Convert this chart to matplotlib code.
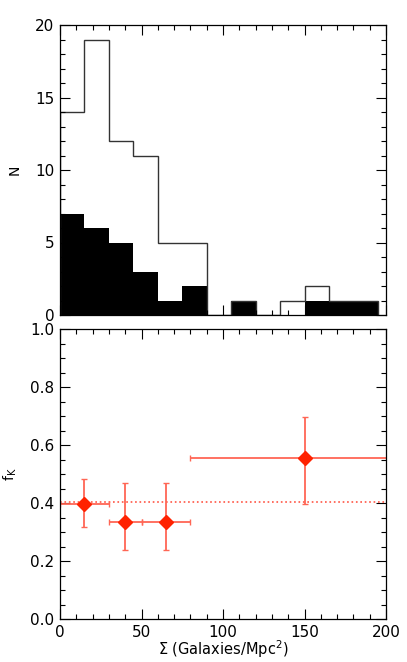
import numpy as np
import matplotlib
matplotlib.use("Agg")
import matplotlib.pyplot as plt
from matplotlib.ticker import MultipleLocator, FormatStrFormatter

plt.rcParams['font.family'] = ['DejaVu Sans']
plt.rcParams['font.size'] = 11
plt.rcParams['mathtext.fontset'] = 'dejavusans'

# Histogram data (bins of width 15)
bin_edges = np.arange(0, 196, 15)
n_all = [14, 19, 12, 11, 5, 5, 0, 1, 0, 1, 2, 1, 1]
n_sub = [7, 6, 5, 3, 1, 2, 0, 1, 0, 0, 1, 1, 1]

# Fraction data
sigma = [15, 40, 65, 150]
sigma_lo = [15, 10, 15, 70]
sigma_hi = [15, 10, 15, 70]
fk = [0.395, 0.335, 0.335, 0.555]
fk_lo = [0.078, 0.097, 0.097, 0.157]
fk_hi = [0.088, 0.133, 0.133, 0.140]
fk_mean = 0.405

fig = plt.figure(figsize=(4.07, 6.62), dpi=100)
ax1 = fig.add_axes([60/407, 1-315/662, 326/407, 290/662])
ax2 = fig.add_axes([60/407, 1-619/662, 326/407, 290/662])

# Top: histograms
ax1.bar(bin_edges[:-1], n_sub, width=15, align='edge', color='black', linewidth=0)
ax1.stairs(n_all, bin_edges, color='#333333', linewidth=1.0)
ax1.set_xlim(0, 200)
ax1.set_ylim(0, 20)
ax1.set_ylabel("N", fontsize=10, labelpad=10)
ax1.xaxis.set_major_locator(MultipleLocator(50))
ax1.xaxis.set_minor_locator(MultipleLocator(10))
ax1.yaxis.set_major_locator(MultipleLocator(5))
ax1.yaxis.set_minor_locator(MultipleLocator(1))
ax1.set_xticklabels([])

# Bottom: fraction vs density
ax2.axhline(fk_mean, color='#ff5544', linestyle=':', linewidth=1.2)
ax2.errorbar(sigma, fk, xerr=[sigma_lo, sigma_hi], yerr=[fk_lo, fk_hi],
             fmt='D', color='#ff2200', ecolor='#ff6655', elinewidth=1.3,
             capsize=2.5, capthick=1.0, markersize=7)
ax2.set_xlim(0, 200)
ax2.set_ylim(0, 1.0)
ax2.set_ylabel(r"f$_\mathrm{K}$", fontsize=10, labelpad=8)
ax2.set_xlabel(r"$\Sigma$ (Galaxies/Mpc$^2$)", fontsize=10.5, labelpad=-1)
ax2.xaxis.set_major_locator(MultipleLocator(50))
ax2.xaxis.set_minor_locator(MultipleLocator(10))
ax2.yaxis.set_major_locator(MultipleLocator(0.2))
ax2.yaxis.set_minor_locator(MultipleLocator(0.05))
ax2.yaxis.set_major_formatter(FormatStrFormatter('%.1f'))

for ax in (ax1, ax2):
    ax.tick_params(which='both', direction='in', top=True, right=True, width=0.8)
    ax.tick_params(which='major', length=7, pad=4)
    ax.tick_params(which='minor', length=3.5)
    for s in ax.spines.values():
        s.set_linewidth(0.9)

fig.savefig("out.png", dpi=100)
